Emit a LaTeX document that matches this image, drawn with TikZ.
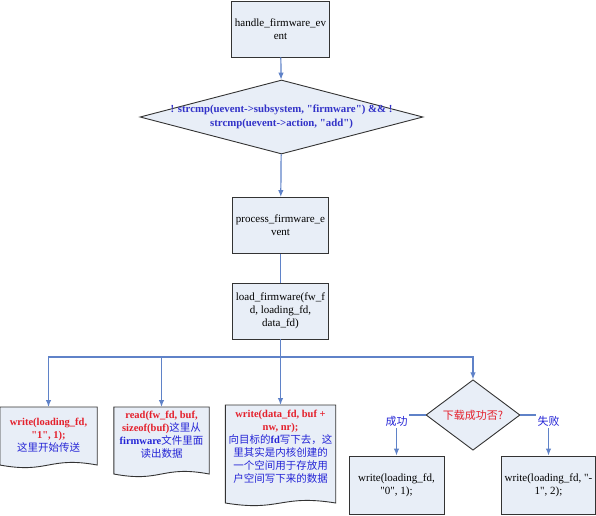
\documentclass[tikz,border=0pt]{standalone}
\usepackage{fontspec}
\setmainfont{Liberation Serif}
\newfontfamily\cjk{Noto Sans CJK SC}
\usepackage{tikz}
\usetikzlibrary{positioning,shapes.geometric,arrows.meta,calc,backgrounds}

\definecolor{boxfill}{RGB}{232,238,247}
\definecolor{linkblue}{RGB}{95,130,200}
\definecolor{codered}{RGB}{228,32,44}
\definecolor{notebl}{RGB}{36,36,214}
\definecolor{condbl}{RGB}{50,50,200}

\newcommand\zhtxt[1]{{\cjk #1}}
\newcommand\codetxt[1]{\textcolor{codered}{\textbf{#1}}}
\newcommand\notetxt[1]{\textcolor{notebl}{#1}}
\newcommand\qq{\textquotedbl{}}
% outline of a document shape below node #1, wavy bottom at y=#2
\newcommand\docshape[2]{%
  \path[docbox] (#1.north west) -- (#1.north east) -- (#1.north east |- 0,#2)
    .. controls ($(#1.north |- 0,#2)+(0,-9)$) and ($(#1.north |- 0,#2)+(0,9)$)
    .. (#1.north west |- 0,#2) -- cycle;}

\begin{document}
\begin{tikzpicture}
  [x=1pt,y=-1pt,
   box/.style={rectangle,draw=black!80,fill=boxfill,line width=.9pt,
     minimum width=95pt,minimum height=56pt,align=center,
     font=\fontsize{11}{13}\selectfont},
   cond/.style={diamond,draw=black!80,fill=boxfill,line width=.9pt,inner sep=0pt},
   condtext/.style={align=center,text=condbl,font=\fontsize{10.8}{14}\selectfont\bfseries},
   doc/.style={rectangle,anchor=north,inner xsep=0pt,align=center,
     font=\fontsize{10.5}{13}\selectfont},
   docbox/.style={draw=black!80,fill=boxfill,line width=.9pt},
   branch/.style={fill=white,inner sep=1.5pt,yshift=-6pt,text=notebl,
     font=\fontsize{11}{13}\selectfont\cjk},
   link/.style={draw=linkblue,line width=1.2pt,-{Latex[length=7pt,width=5.5pt]}}]
  \useasboundingbox (0,0) rectangle (596,515);

  \node[box] (hfe) at (280.5,29) {handle\_firmware\_ev\\ent};
  \node[cond,minimum width=283pt,minimum height=74pt,
    label={[condtext]center:{! strcmp(uevent->subsystem, \qq firmware\qq) \&\& !\\strcmp(uevent->action, \qq add\qq)}}]
    (cond) at (281.5,117) {};
  \node[box] (pfe) at (280.5,225.5) {process\_firmware\_e\\vent};
  \node[box] (lf) at (280.5,311) {load\_firmware(fw\_f\\d, loading\_fd,\\data\_fd)};
  \coordinate (bar) at (280.5,357);

  \node[doc,minimum width=97pt,inner ysep=11pt] (doc1) at (48.5,407)
    {\codetxt{write(loading\_fd,}\\\codetxt{\qq 1\qq, 1);}\\\notetxt{\zhtxt{这里开始传送}}};
  \node[doc,minimum width=95pt,inner ysep=4pt] (doc2) at (161.5,407)
    {\codetxt{read(fw\_fd, buf,}\\\codetxt{sizeof(buf)}\notetxt{\zhtxt{这里从}}\\
     \notetxt{\textbf{firmware}\zhtxt{文件里面}}\\\notetxt{\zhtxt{读出数据}}};
  \node[doc,minimum width=110pt,inner ysep=5pt] (doc3) at (280.5,405)
    {\codetxt{write(data\_fd, buf +}\\\codetxt{nw, nr);}\\
     \notetxt{\zhtxt{向目标的}\textbf{fd}\zhtxt{写下去，这}}\\
     \notetxt{\zhtxt{里其实是内核创建的}}\\
     \notetxt{\zhtxt{一个空间用于存放用}}\\
     \notetxt{\zhtxt{户空间写下来的数据}}};

  \node[cond,minimum width=94pt,minimum height=56pt,text=codered,
    font=\fontsize{11}{13}\selectfont\cjk] (ok) at (473,415) {下载成功否?};
  \node[box,minimum width=95pt,minimum height=58pt] (w0) at (396.5,485)
    {write(loading\_fd,\\\qq 0\qq, 1);};
  \node[box,minimum width=93pt,minimum height=58pt] (w1) at (548.5,485)
    {write(loading\_fd, \qq -\\1\qq, 2);};

  \begin{pgfonlayer}{background}
    \docshape{doc1}{465}
    \docshape{doc2}{474}
    \docshape{doc3}{503}
  \end{pgfonlayer}

  \draw[link] (hfe) -- (cond);
  \draw[link] (cond) -- (pfe);
  \draw[link,-] (pfe) -- (lf);
  \draw[link,-] (lf) -- (bar);
  \draw[link] (bar) -| (doc1.north);
  \draw[link] (bar) -| (doc2.north);
  \draw[link] (bar) -- (doc3.north);
  \draw[link] (bar) -| (ok.north);
  \draw[link] (ok.west) -| node[branch] {成功} (w0.north);
  \draw[link] (ok.east) -| node[branch] {失败} (w1.north);
\end{tikzpicture}
\end{document}
